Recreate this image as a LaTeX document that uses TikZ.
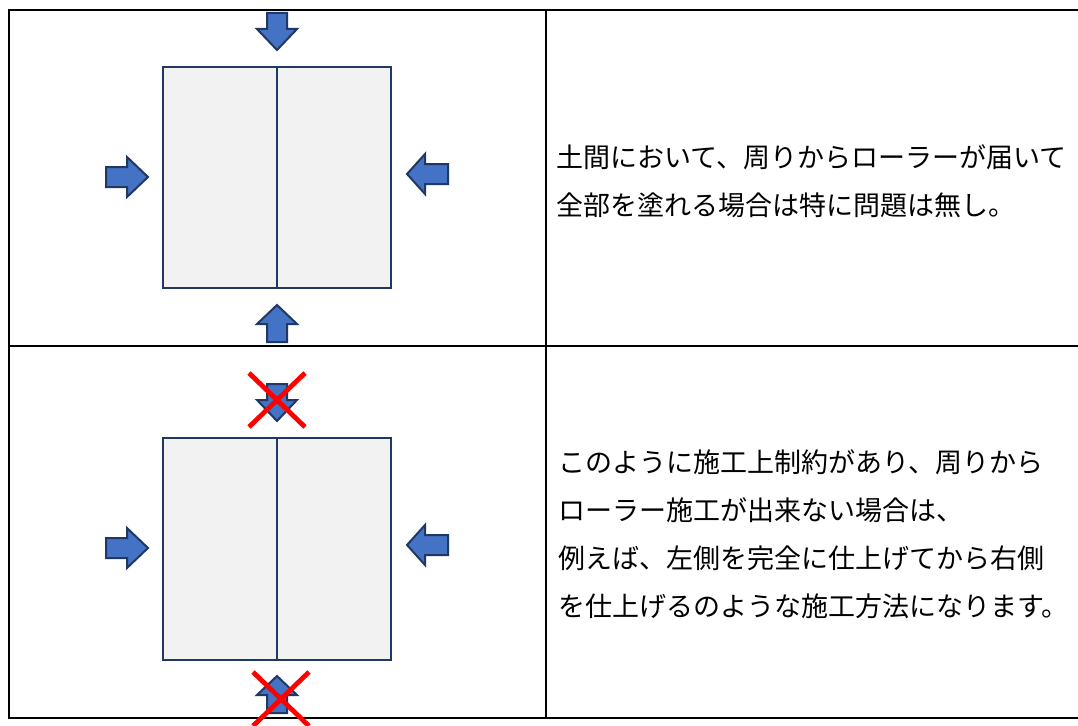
\documentclass[tikz,border=0pt]{standalone}
\usepackage{fontspec}
\newfontfamily\jp{Noto Sans CJK JP}
\definecolor{arrowfill}{HTML}{4472C4}
\definecolor{navy}{HTML}{1F3864}
\definecolor{boxfill}{HTML}{F2F2F2}
\tikzset{
  arrowsty/.style={fill=arrowfill,draw=navy,line width=2pt,line join=miter},
  boxsty/.style={fill=boxfill,draw=navy,line width=2.6pt},
  divsty/.style={draw=navy,line width=2.6pt},
  gridsty/.style={draw=black,line width=2.4pt},
  crosssty/.style={draw=red,line width=4.8pt},
  txt/.style={font=\jp\fontsize{27}{30}\selectfont,anchor=west,inner sep=0pt,text=black}
}
\newcommand\barrow[5]{\draw[arrowsty,shift={(#1,#2)},rotate=#3] (-#4,-10)--(0,-10)--(0,-20)--(#5,0)--(0,20)--(0,10)--(-#4,10)--cycle;}
\begin{document}
\begin{tikzpicture}[x=1pt,y=-1pt]
\useasboundingbox (0,0) rectangle (1078,725);
\fill[white] (0,0) rectangle (1078,725);
% table
\draw[gridsty] (1079,10) -- (9,10) -- (9,718) -- (1079,718);
\draw[gridsty] (9,346) -- (1079,346);
\draw[gridsty] (546,10) -- (546,718);
% row 1
\draw[boxsty] (163,67) rectangle (391,288);
\draw[divsty] (277,67) -- (277,288);
\barrow{277}{29}{-90}{16}{21}
\barrow{127}{177}{0}{21}{21}
\barrow{425}{174}{180}{23}{18}
\barrow{277}{324}{90}{18}{19}
\node[txt] (t1) at (556,157) {土間において、周りからローラーが届いて};
\node[txt] (t2) at (556,205) {全部を塗れる場合は特に問題は無し。};
% row 2
\draw[boxsty] (163,438) rectangle (391,660);
\draw[divsty] (277,438) -- (277,660);
\barrow{277}{400}{-90}{16}{21}
\barrow{127}{548}{0}{21}{21}
\barrow{425}{545}{180}{23}{18}
\barrow{277}{695}{90}{18}{19}
\draw[crosssty] (249,373) -- (305,427);
\draw[crosssty] (305,373) -- (249,427);
\draw[crosssty] (253,672) -- (309,726);
\draw[crosssty] (309,672) -- (253,726);
\node[txt] (t3) at (558,462) {このように施工上制約があり、周りから};
\node[txt] (t4) at (558,510) {ローラー施工が出来ない場合は、};
\node[txt] (t5) at (558,558) {例えば、左側を完全に仕上げてから右側};
\node[txt] (t6) at (558,606) {を仕上げるのような施工方法になります。};
\end{tikzpicture}
\end{document}
